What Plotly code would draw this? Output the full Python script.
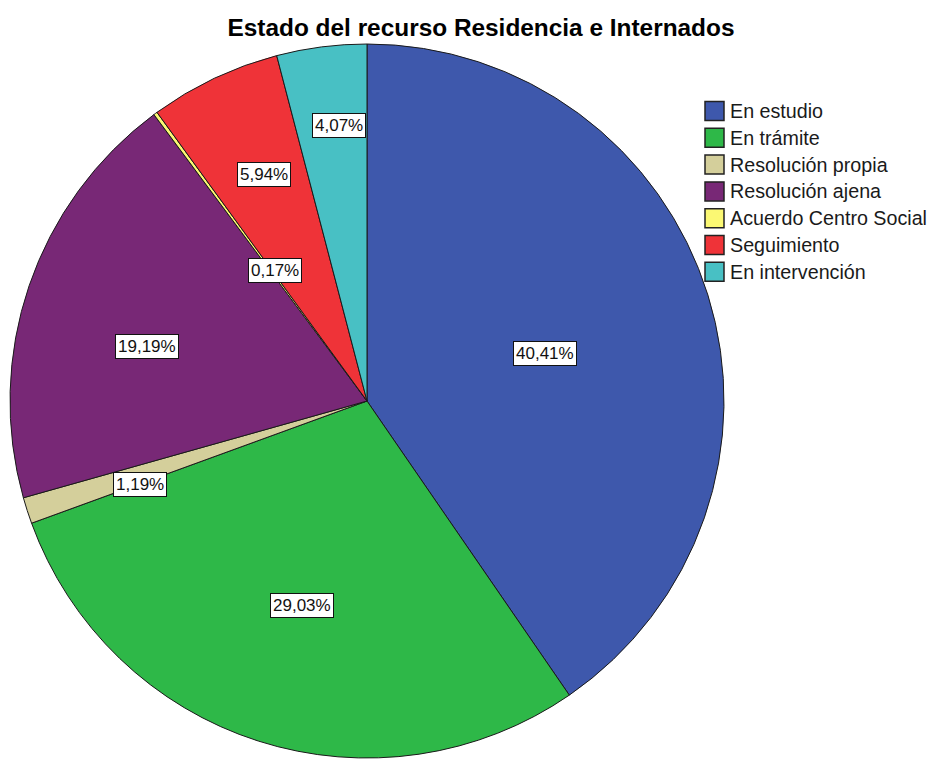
import math
import plotly.graph_objects as go

# Categories and their shares (%)
categories = ["En estudio", "En trámite", "Resolución propia", "Resolución ajena",
              "Acuerdo Centro Social", "Seguimiento", "En intervención"]
shares = [40.41, 29.03, 1.19, 19.19, 0.17, 5.94, 4.07]
colors = ["#3e58ac", "#2eb848", "#d4cf9b", "#782876", "#fbf873", "#ef3338", "#48c0c4"]

# Value label placement: distance from centre (fraction of radius) and
# a small angular nudge (degrees) away from each slice's mid-angle
label_radius = [0.517, 0.602, 0.678, 0.635, 0.448, 0.696, 0.777]
label_nudge = [2.2, 0.0, -2.4, -4.8, 1.3, 0.8, 1.5]

W, H = 932, 767
cx, cy, r = 367, 401, 357  # pie centre and radius in pixels

fig = go.Figure(go.Pie(
    labels=categories,
    values=shares,
    sort=False,
    direction="clockwise",
    rotation=0,
    marker=dict(colors=colors, line=dict(color="#1a1a1a", width=1)),
    textinfo="none",
    hoverinfo="label+percent",
    showlegend=False,
    domain=dict(x=[(cx - r) / W, (cx + r) / W], y=[1 - (cy + r) / H, 1 - (cy - r) / H]),
))

# Value labels placed around each slice's mid-angle
total = sum(shares)
cum = 0.0
annotations = []
for v, rf, nd in zip(shares, label_radius, label_nudge):
    mid = (cum + v / 2) / total * 2 * math.pi + math.radians(nd)
    cum += v
    px = cx + rf * r * math.sin(mid)
    py = cy - rf * r * math.cos(mid)
    annotations.append(dict(
        x=px / W, y=1 - py / H, xref="paper", yref="paper",
        xanchor="center", yanchor="middle",
        text=f"{v:.2f}%".replace(".", ","), showarrow=False,
        font=dict(family="Liberation Sans, Arial, sans-serif", size=17, color="#111111"),
        bgcolor="white", bordercolor="#111111", borderwidth=1, borderpad=2,
    ))

# Legend: boxed colour swatches with category names
shapes = []
leg_x, leg_y, leg_step, sw = 705, 111, 26.8, 19
for i, (name, col) in enumerate(zip(categories, colors)):
    yc = leg_y + i * leg_step
    shapes.append(dict(
        type="rect", xref="paper", yref="paper",
        x0=leg_x / W, x1=(leg_x + sw) / W,
        y0=1 - (yc + sw / 2) / H, y1=1 - (yc - sw / 2) / H,
        fillcolor=col, line=dict(color="#222222", width=1.5),
    ))
    annotations.append(dict(
        x=(leg_x + sw + 4) / W, y=1 - yc / H, xref="paper", yref="paper",
        xanchor="left", yanchor="middle", showarrow=False, text=name,
        font=dict(family="Liberation Sans, Arial, sans-serif", size=19.7, color="#1a1a1a"),
    ))

fig.update_layout(
    width=W, height=H,
    margin=dict(l=0, r=0, t=0, b=0),
    paper_bgcolor="white", plot_bgcolor="white",
    title=dict(text="<b>Estado del recurso Residencia e Internados</b>",
               x=481 / W, xanchor="center", y=1 - 27 / H, yanchor="middle",
               font=dict(family="Liberation Sans, Arial, sans-serif", size=24.4, color="black")),
    showlegend=False,
    shapes=shapes,
    annotations=annotations,
)

fig.write_html("out.html")
